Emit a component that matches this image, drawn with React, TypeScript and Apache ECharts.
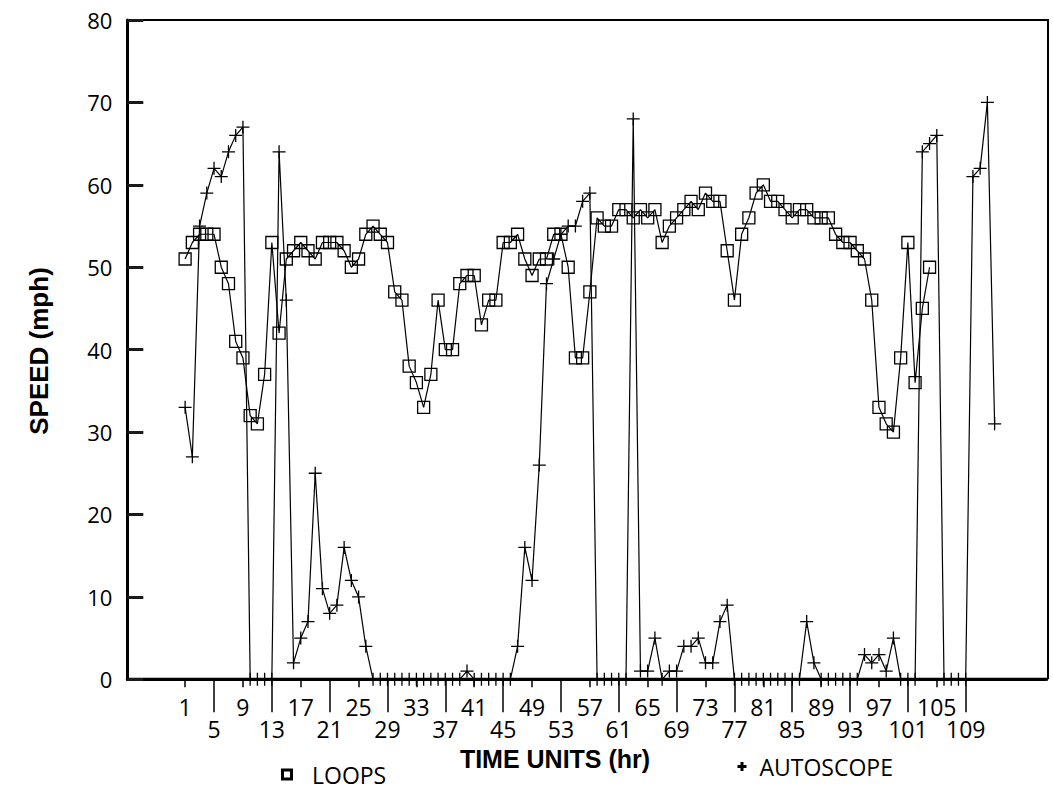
import React, { useEffect, useRef } from "react";
import * as echarts from "echarts";

// LOOPS speeds (mph), hours 1..104
const loops = [
  51, 53, 54, 54, 54, 50, 48, 41, 39, 32,
  31, 37, 53, 42, 51, 52, 53, 52, 51, 53,
  53, 53, 52, 50, 51, 54, 55, 54, 53, 47,
  46, 38, 36, 33, 37, 46, 40, 40, 48, 49,
  49, 43, 46, 46, 53, 53, 54, 51, 49, 51,
  51, 54, 54, 50, 39, 39, 47, 56, 55, 55,
  57, 57, 56, 57, 56, 57, 53, 55, 56, 57,
  58, 57, 59, 58, 58, 52, 46, 54, 56, 59,
  60, 58, 58, 57, 56, 57, 57, 56, 56, 56,
  54, 53, 53, 52, 51, 46, 33, 31, 30, 39,
  53, 36, 45, 50,
];

// AUTOSCOPE speeds (mph), hours 1..113
const autoscope = [
  33, 27, 55, 59, 62, 61, 64, 66, 67, 0,
  0, 0, 0, 64, 46, 2, 5, 7, 25, 11,
  8, 9, 16, 12, 10, 4, 0, 0, 0, 0,
  0, 0, 0, 0, 0, 0, 0, 0, 0, 1,
  0, 0, 0, 0, 0, 0, 4, 16, 12, 26,
  48, 51, 54, 55, 55, 58, 59, 0, 0, 0,
  0, 0, 68, 1, 1, 5, 0, 1, 1, 4,
  4, 5, 2, 2, 7, 9, 0, 0, 0, 0,
  0, 0, 0, 0, 0, 0, 7, 2, 0, 0,
  0, 0, 0, 0, 3, 2, 3, 1, 5, 0,
  0, 0, 64, 65, 66, 0, 0, 0, 0, 61,
  62, 70, 31,
];

// x tick labels: upper row and lower row
const topRowLabels = [1, 9, 17, 25, 33, 41, 49, 57, 65, 73, 81, 89, 97, 105];
const bottomRowLabels = [5, 13, 21, 29, 37, 45, 53, 61, 69, 77, 85, 93, 101, 109];

// axis category range (hours) including the blank margins of the frame
const xFirst = -7;
const xLast = 120;
const xCategories: string[] = [];
for (let h = xFirst; h <= xLast; h++) xCategories.push(String(h));

const topSet = new Set(topRowLabels.map(String));
const bottomSet = new Set(bottomRowLabels.map(String));

const LABEL_FONT = "Open Sans";
const TITLE_FONT = "Liberation Sans";

export default function App() {
  const ref = useRef<HTMLDivElement>(null);

  useEffect(() => {
    if (!ref.current) return;
    const chart = echarts.init(ref.current, undefined, { renderer: "svg" });

    const gridLeft = 127.3;
    const gridTop = 20;
    const gridWidth = 917.9;
    const gridHeight = 659.3;
    const frameRight = 1048;

    const option: any = {
      animation: false,
      backgroundColor: "#ffffff",
      grid: { left: gridLeft, top: gridTop, width: gridWidth, height: gridHeight, show: false },
      xAxis: [
        {
          type: "category",
          data: xCategories,
          boundaryGap: false,
          position: "bottom",
          axisLine: { show: true, lineStyle: { color: "#000", width: 3 } },
          axisTick: {
            show: true,
            interval: (_i: number, v: string) => topSet.has(v),
            length: 8,
            lineStyle: { color: "#000", width: 1.5 },
          },
          axisLabel: {
            interval: (_i: number, v: string) => topSet.has(v),
            margin: 16,
            fontSize: 23,
            fontFamily: LABEL_FONT,
            color: "#000",
          },
          splitLine: { show: false },
        },
        {
          type: "category",
          data: xCategories,
          boundaryGap: false,
          position: "bottom",
          offset: 0,
          axisLine: { show: false },
          axisTick: {
            show: true,
            interval: (_i: number, v: string) => bottomSet.has(v),
            length: 33,
            lineStyle: { color: "#000", width: 1.5 },
          },
          axisLabel: {
            interval: (_i: number, v: string) => bottomSet.has(v),
            margin: 38,
            fontSize: 23,
            fontFamily: LABEL_FONT,
            color: "#000",
          },
          splitLine: { show: false },
        },
      ],
      yAxis: {
        type: "value",
        min: 0,
        max: 80,
        interval: 10,
        position: "left",
        axisLine: { show: true, lineStyle: { color: "#000", width: 3 } },
        axisTick: { show: true, inside: true, length: 16, lineStyle: { color: "#1a1a1a", width: 3 } },
        axisLabel: { fontSize: 22, fontFamily: LABEL_FONT, color: "#000", margin: 15 },
        splitLine: { show: false },
      },
      legend: [
        {
          data: [{ name: "LOOPS", icon: "path://M0,0H12V12H0Z M3,3V9H9V3Z" }],
          left: 281,
          top: 763,
          padding: 0,
          itemWidth: 12,
          itemHeight: 12,
          selectedMode: false,
          itemStyle: { color: "#000", borderWidth: 0 },
          lineStyle: { width: 0, opacity: 0 },
          textStyle: { fontSize: 23, fontFamily: LABEL_FONT, color: "#000", padding: [0, 0, 0, 14] },
        },
        {
          data: [{ name: "AUTOSCOPE", icon: "path://M3,0H6V3H9V6H6V9H3V6H0V3H3Z" }],
          left: 737.5,
          top: 755,
          padding: 0,
          itemWidth: 9,
          itemHeight: 9,
          selectedMode: false,
          itemStyle: { color: "#000", borderWidth: 0 },
          lineStyle: { width: 0, opacity: 0 },
          textStyle: { fontSize: 23, fontFamily: LABEL_FONT, color: "#000", padding: [0, 0, 0, 8] },
        },
      ],
      series: [
        {
          name: "LOOPS",
          type: "line",
          data: loops.map((v, i) => [String(i + 1), v]),
          symbol: "rect",
          symbolSize: 12,
          showAllSymbol: true,
          clip: false,
          silent: true,
          itemStyle: { color: "rgba(0,0,0,0)", borderColor: "#000", borderWidth: 1.3 },
          lineStyle: { color: "#000", width: 1.2 },
        },
        {
          name: "AUTOSCOPE",
          type: "line",
          data: autoscope.map((v, i) => [String(i + 1), v]),
          symbol: "path://M0,6H12M6,0V12",
          symbolSize: 13,
          showAllSymbol: true,
          clip: false,
          silent: true,
          itemStyle: { color: "rgba(0,0,0,0)", borderColor: "#000", borderWidth: 1.3 },
          lineStyle: { color: "#000", width: 1.2 },
        },
      ],
      graphic: [
        {
          type: "polyline",
          silent: true,
          shape: {
            points: [
              [gridLeft, gridTop],
              [frameRight, gridTop],
              [frameRight, gridTop + gridHeight],
            ],
          },
          style: { fill: null, stroke: "#000", lineWidth: 2 },
        },
        {
          type: "line",
          silent: true,
          shape: { x1: gridLeft, y1: gridTop + gridHeight, x2: frameRight, y2: gridTop + gridHeight },
          style: { stroke: "#000", lineWidth: 3 },
        },
        {
          type: "text",
          x: 555,
          y: 759,
          silent: true,
          style: {
            text: "TIME UNITS (hr)",
            fontSize: 25,
            fontWeight: "bold",
            fontFamily: TITLE_FONT,
            fill: "#000",
            align: "center",
            verticalAlign: "middle",
          },
        },
        {
          type: "text",
          x: 39,
          y: 351,
          rotation: Math.PI / 2,
          silent: true,
          style: {
            text: "SPEED (mph)",
            fontSize: 26,
            fontWeight: "bold",
            fontFamily: TITLE_FONT,
            fill: "#000",
            align: "center",
            verticalAlign: "middle",
          },
        },
      ],
    };

    chart.setOption(option);
    return () => chart.dispose();
  }, []);

  return (
    <div
      ref={ref}
      style={{ position: "fixed", left: 0, top: 0, width: 1053, height: 793, background: "#fff" }}
    />
  );
}
